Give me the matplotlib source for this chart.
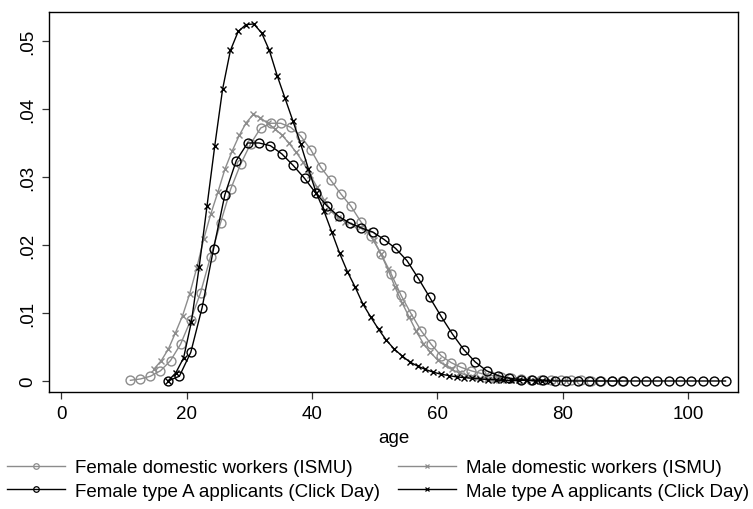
import numpy as np
import matplotlib
matplotlib.use("Agg")
import matplotlib.pyplot as plt
from matplotlib.lines import Line2D

plt.rcParams['font.family'] = ['Liberation Sans', 'DejaVu Sans']

# kernel density estimates, 50 evaluation points each (age grid = start..stop)
f_ismu_age = (11.0, 89.4)
f_ismu = [0.0001, 0.0003, 0.0007, 0.0015, 0.0030, 0.0054, 0.0089, 0.0130, 0.0183, 0.0233,
          0.0282, 0.0319, 0.0349, 0.0372, 0.0379, 0.0379, 0.0373, 0.0360, 0.0340, 0.0314,
          0.0295, 0.0275, 0.0257, 0.0234, 0.0213, 0.0187, 0.0158, 0.0126, 0.0099, 0.0074,
          0.0054, 0.0037, 0.0027, 0.0020, 0.0015, 0.0011, 0.0008, 0.0006, 0.0004, 0.0003,
          0.0002, 0.0002, 0.0001, 0.0001, 0.0001, 0.0001, 0.0000, 0.0000, 0.0000, 0.0000]

m_ismu_age = (14.8, 70.2)
m_ismu = [0.0018, 0.0030, 0.0047, 0.0071, 0.0096, 0.0128, 0.0166, 0.0209, 0.0246, 0.0278,
          0.0312, 0.0338, 0.0361, 0.0380, 0.0392, 0.0387, 0.0379, 0.0371, 0.0362, 0.0350,
          0.0337, 0.0322, 0.0303, 0.0285, 0.0266, 0.0250, 0.0240, 0.0234, 0.0230, 0.0227,
          0.0220, 0.0207, 0.0187, 0.0164, 0.0138, 0.0115, 0.0094, 0.0073, 0.0055, 0.0042,
          0.0031, 0.0023, 0.0017, 0.0012, 0.0009, 0.0006, 0.0004, 0.0003, 0.0002, 0.0001]

f_click_age = (17.0, 106.0)
f_click = [0.0000, 0.0007, 0.0042, 0.0108, 0.0194, 0.0274, 0.0324, 0.0350, 0.0350, 0.0346,
           0.0334, 0.0317, 0.0298, 0.0276, 0.0257, 0.0242, 0.0232, 0.0225, 0.0219, 0.0208,
           0.0195, 0.0177, 0.0151, 0.0123, 0.0095, 0.0069, 0.0046, 0.0028, 0.0015, 0.0008,
           0.0004, 0.0002, 0.0001, 0.0001, 0.0000, 0.0000, 0.0000, 0.0000, 0.0000, 0.0000,
           0.0000, 0.0000, 0.0000, 0.0000, 0.0000, 0.0000, 0.0000, 0.0000, 0.0000, 0.0000]

m_click_age = (17.0, 78.0)
m_click = [0.0000, 0.0012, 0.0034, 0.0087, 0.0168, 0.0257, 0.0346, 0.0429, 0.0486, 0.0514,
           0.0524, 0.0525, 0.0512, 0.0486, 0.0449, 0.0416, 0.0383, 0.0349, 0.0312, 0.0277,
           0.0250, 0.0219, 0.0188, 0.0161, 0.0138, 0.0113, 0.0094, 0.0076, 0.0060, 0.0047,
           0.0037, 0.0028, 0.0022, 0.0017, 0.0013, 0.0010, 0.0008, 0.0006, 0.0005, 0.0004,
           0.0003, 0.0002, 0.0002, 0.0001, 0.0001, 0.0001, 0.0001, 0.0000, 0.0000, 0.0000]

labels = ["Female domestic workers (ISMU)", "Male domestic workers (ISMU)",
          "Female type A applicants (Click Day)", "Male type A applicants (Click Day)"]

xticks = [0, 20, 40, 60, 80, 100]
yticks = [0, 0.01, 0.02, 0.03, 0.04, 0.05]
ytick_labels = ["0", ".01", ".02", ".03", ".04", ".05"]

GRAY = "#8c8c8c"
FS = 13.5
series = [
    (f_ismu_age, f_ismu, GRAY, "o"),
    (m_ismu_age, m_ismu, GRAY, "x"),
    (f_click_age, f_click, "black", "o"),
    (m_click_age, m_click, "black", "x"),
]

fig = plt.figure(figsize=(7.53, 5.10), dpi=100)
ax = fig.add_axes([0.0657, 0.2294, 0.9143, 0.7451])

for (a0, a1), dens, col, mk in series:
    age = np.linspace(a0, a1, len(dens))
    if mk == "o":
        ax.plot(age, dens, color=col, lw=1.0, marker="o", ms=6.4,
                mfc="none", mec=col, mew=1.0)
    else:
        ax.plot(age, dens, color=col, lw=1.0, marker="x", ms=4.3, mec=col, mew=1.0)

ax.set_xlim(-1.92, 107.98)
ax.set_ylim(-0.00162, 0.05426)
ax.set_xticks(xticks)
ax.set_yticks(yticks)
ax.set_yticklabels(ytick_labels, rotation=90, va="center")
ax.tick_params(direction="out", length=5, width=0.9, color="#333333", labelsize=FS)
ax.tick_params(axis="x", pad=4.3)
ax.tick_params(axis="y", pad=4.2)
for sp in ax.spines.values():
    sp.set_linewidth(1.0)
ax.set_xlabel("age", fontsize=FS, labelpad=5)

# legend: two columns placed under the plot
def handle(col, mk):
    if mk == "o":
        return Line2D([], [], color=col, lw=1.0, marker="o", ms=4, mfc="none", mec=col, mew=0.9)
    return Line2D([], [], color=col, lw=1.0, marker="x", ms=3.5, mec=col, mew=0.9)

h = [handle(c, m) for _, _, c, m in series]
leg_kw = dict(frameon=False, fontsize=FS, handlelength=3.1, handletextpad=0.55,
              labelspacing=0.36, borderpad=0, borderaxespad=0, loc="upper left")
fig.legend([h[0], h[2]], [labels[0], labels[2]],
           bbox_to_anchor=(7 / 753, 1 - 460 / 510), **leg_kw)
fig.legend([h[1], h[3]], [labels[1], labels[3]],
           bbox_to_anchor=(398 / 753, 1 - 460 / 510), **leg_kw)

fig.savefig("out.png", dpi=100)
